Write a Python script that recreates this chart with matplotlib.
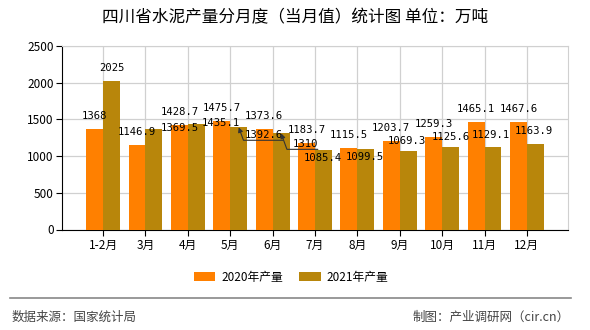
import matplotlib.pyplot as plt
import numpy as np

plt.rcParams['font.family'] = ['Noto Sans CJK SC', 'DejaVu Sans']

# 数据
months = ['1-2月', '3月', '4月', '5月', '6月', '7月', '8月', '9月', '10月', '11月', '12月']
y2020 = [1368, 1146.9, 1428.7, 1475.7, 1373.6, 1183.7, 1115.5, 1203.7, 1259.3, 1465.1, 1467.6]
y2021 = [2025, 1369.5, 1435.1, 1392.6, 1310, 1085.4, 1099.5, 1069.3, 1125.6, 1129.1, 1163.9]

# 标签偏移 (像素)
off2020 = [(0, 13)] * 11
off2021 = [(0, 13), (26, 1), (25, 1), (25, -8), (24, -11), (-1, -8.5), (-1, -8.5),
           (-1, 10.5), (0, 9.5), (-2, 12), (-1.5, 13)]
arrow2021 = [3, 4]

c2020 = '#FF8000'
c2021 = '#B8860B'

fig = plt.figure(figsize=(5.9, 3.3), dpi=100)
ax = fig.add_axes([62 / 590, 1 - 229.5 / 330, 506 / 590, 183.5 / 330])

x = np.arange(len(months))
w = 0.4
b1 = ax.bar(x - w / 2, y2020, w, color=c2020, label='2020年产量', zorder=3)
b2 = ax.bar(x + w / 2, y2021, w, color=c2021, label='2021年产量', zorder=3)

ax.set_xlim(-0.97, len(months) - 0.03)
ax.set_ylim(0, 2500)
ax.set_yticks(range(0, 2501, 500))
ax.set_xticks(x)
ax.set_xticklabels(months, fontsize=8.5)
ax.tick_params(axis='y', labelsize=8.5, length=4, direction='out', pad=2)
ax.tick_params(axis='x', length=4, direction='out', pad=3)
ax.grid(True, color='#d0d0d0', linewidth=0.9, zorder=0)
for s in ['top', 'right']:
    ax.spines[s].set_color('#d0d0d0')
for s in ['left', 'bottom']:
    ax.spines[s].set_color('black')

lblfont = dict(family='DejaVu Sans Mono', fontsize=7.6)
for i, v in enumerate(y2020):
    ax.annotate(f'{v:g}', (x[i] - w / 2, v), xytext=off2020[i], textcoords='offset pixels',
                ha='center', va='center', zorder=5, **lblfont)
for i, v in enumerate(y2021):
    if i in arrow2021:
        ax.annotate(f'{v:g}', (x[i] + w / 2, v), xytext=off2021[i], textcoords='offset pixels',
                    ha='center', va='center', zorder=5, **lblfont,
                    arrowprops=dict(arrowstyle='-|>', color='#333333', lw=0.8,
                                    mutation_scale=7, relpos=(1, 0), shrinkA=0, shrinkB=0,
                                    patchA=None,
                                    connectionstyle='angle,angleA=180,angleB=110,rad=0'))
    else:
        ax.annotate(f'{v:g}', (x[i] + w / 2, v), xytext=off2021[i], textcoords='offset pixels',
                    ha='center', va='center', zorder=5, **lblfont)

fig.text(0.5, 1 - 18 / 330, '四川省水泥产量分月度（当月值）统计图 单位：万吨', ha='center', va='center',
         fontsize=12)

fig.legend(handles=[b1, b2], loc='center', bbox_to_anchor=(291 / 590, 1 - 277 / 330),
           ncol=2, frameon=False, fontsize=8.5, handlelength=1.8, handleheight=0.9,
           columnspacing=1.4, handletextpad=0.5)

fig.add_artist(plt.Line2D([10 / 590, 571 / 590], [1 - 298 / 330, 1 - 298 / 330],
                          color='#888888', lw=1.2))
fig.text(12 / 590, 1 - 317 / 330, '数据来源：国家统计局', ha='left', va='center',
         fontsize=9, color='#444444')
fig.text(570 / 590, 1 - 317 / 330, '制图：产业调研网（cir.cn）', ha='right', va='center',
         fontsize=9, color='#444444')

fig.savefig('out.png', dpi=100)
